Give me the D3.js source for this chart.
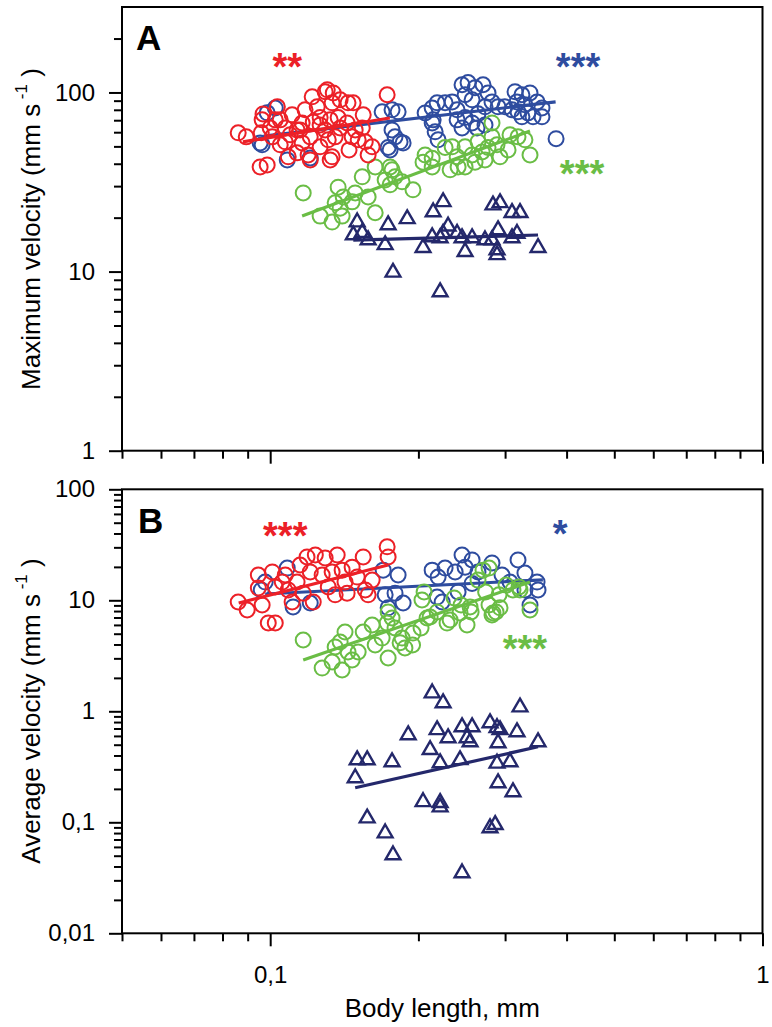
<!DOCTYPE html>
<html><head><meta charset="utf-8">
<script src="https://cdn.jsdelivr.net/npm/d3@7"></script>
<style>
body{margin:0;background:#fff}
text{font-family:"Liberation Sans",Arial,sans-serif}
</style>
</head><body>
<svg id="c" width="772" height="1027"></svg>
<script>
// ---------- tick values and labels ----------
const xMajor = [0.1, 1];
const xMinor = [0.05,0.06,0.07,0.08,0.09,0.2,0.3,0.4,0.5,0.6,0.7,0.8,0.9];
const xLabels = {"0.1":"0,1","1":"1"};
const yMajorA = [1,10,100];
const yMinorA = [2,3,4,5,6,7,8,9,20,30,40,50,60,70,80,90,200];
const yLabelsA = {"1":"1","10":"10","100":"100"};
const yMajorB = [0.01,0.1,1,10,100];
const yMinorB = [0.02,0.03,0.04,0.05,0.06,0.07,0.08,0.09,0.2,0.3,0.4,0.5,0.6,0.7,0.8,0.9,2,3,4,5,6,7,8,9,20,30,40,50,60,70,80,90];
const yLabelsB = {"0.01":"0,01","0.1":"0,1","1":"1","10":"10","100":"100"};

// ---------- Panel A: maximum velocity ----------
const redA = [[0.0861,59.5],[0.0894,56.5],[0.0954,38.4],[0.0986,39.4],[0.0963,70.3],[0.0959,59.5],[0.1034,83.1],[0.1024,70.3],[0.1010,56.5],[0.1048,51.0],[0.1088,43.7],[0.1108,75.0],[0.1073,63.4],[0.1134,61.8],[0.1161,52.3],[0.1194,44.8],[0.1217,94.5],[0.1293,101],[0.1246,83.1],[0.1223,68.5],[0.1263,72.4],[0.1293,61.8],[0.1336,87.5],[0.1387,91.0],[0.1439,87.5],[0.1374,72.4],[0.1355,56.5],[0.1312,54.4],[0.1336,43.7],[0.1433,67.6],[0.1467,56.5],[0.1446,47.8],[0.1545,75.0],[0.1509,54.4],[0.1560,53.0],[0.1611,49.7],[0.1581,44.8],[0.1728,97.1],[0.1206,56.5],[0.1161,67.6],[0.1000,63.4],[0.1073,53.0],[0.1263,49.7],[0.1134,46.0],[0.0967,75.9],[0.1306,103.5],[0.1343,99.4],[0.1474,87.5],[0.1324,42.0],[0.1206,42.0],[0.1150,61.8],[0.1098,58.0],[0.1263,65.9],[0.1387,63.4],[0.1488,61.8],[0.1324,70.3],[0.1177,80.0],[0.1048,70.3],[0.1538,63.4]];
const blueA = [[0.1024,81.9],[0.0963,51.0],[0.1083,42.0],[0.1206,43.1],[0.1688,78.0],[0.1736,49.3],[0.1768,80.0],[0.1819,78.0],[0.1768,61.8],[0.1793,56.5],[0.1836,53.0],[0.1752,47.8],[0.2133,81.9],[0.2183,87.5],[0.2133,67.6],[0.2163,60.3],[0.2193,54.4],[0.2266,87.5],[0.2342,88.6],[0.2397,80.0],[0.2453,110.4],[0.2523,113.5],[0.2607,106.3],[0.2706,110.4],[0.2770,99.4],[0.2488,97.1],[0.2571,91.0],[0.2488,72.4],[0.2571,67.6],[0.2643,76.0],[0.2731,83.1],[0.2822,88.6],[0.2903,83.1],[0.2453,63.4],[0.2397,70.3],[0.2631,63.4],[0.2731,65.9],[0.3143,101],[0.3246,97.1],[0.3371,99.4],[0.3172,88.6],[0.3292,85.3],[0.3484,88.6],[0.3565,81.9],[0.3187,78.0],[0.3339,76.9],[0.3246,73.1],[0.3419,73.1],[0.3565,73.1],[0.3099,80.0],[0.3808,55.2],[0.2064,76.9],[0.2997,83.1],[0.0986,77.0],[0.0954,52.3],[0.1862,52.3],[0.2143,70.3]];
const greenA = [[0.1167,27.5],[0.1374,29.6],[0.1407,26.1],[0.1355,24.2],[0.1263,20.4],[0.1336,18.9],[0.1400,20.4],[0.1467,24.5],[0.1387,22.6],[0.1581,26.1],[0.1634,21.3],[0.1538,33.8],[0.1634,38.4],[0.1712,32.5],[0.1768,37.0],[0.1488,27.5],[0.1752,38.4],[0.1793,33.8],[0.1752,30.5],[0.1853,31.7],[0.1950,28.6],[0.2064,44.8],[0.2044,40.8],[0.2133,42.9],[0.2133,38.4],[0.2342,49.7],[0.2320,37.0],[0.2397,43.7],[0.2488,49.7],[0.2488,38.4],[0.2571,44.8],[0.2643,53.0],[0.2694,46.5],[0.2731,42.0],[0.2822,67.6],[0.2822,56.5],[0.2770,49.3],[0.2889,51.0],[0.2930,43.7],[0.3042,47.8],[0.3070,58.0],[0.3187,56.5],[0.3292,54.4],[0.3371,44.8],[0.2607,40.8],[0.2408,38.4],[0.2266,49.3]];
const navyA = [[0.1502,18.9],[0.1538,16.5],[0.1581,15.0],[0.1736,18.2],[0.1712,14.1],[0.1776,9.9],[0.1898,19.7],[0.2143,21.5],[0.2245,24.5],[0.2298,17.9],[0.2044,13.6],[0.2214,15.4],[0.2245,16.3],[0.2397,16.3],[0.2453,15.4],[0.2488,12.9],[0.2571,15.4],[0.2214,7.7],[0.2835,23.5],[0.2930,24.2],[0.3099,21.3],[0.3217,21.3],[0.2903,17.1],[0.2822,15.0],[0.2889,13.2],[0.2889,12.4],[0.3099,15.4],[0.3172,16.3],[0.3500,13.6],[0.2731,15.0],[0.2133,15.6],[0.1475,16.0]];
const fitRedA = [[0.088,53],[0.175,72]];
const fitBlueA = [[0.097,57],[0.380,88.6]];
const fitGreenA = [[0.1161,20.4],[0.3371,61.0]];
const fitNavyA = [[0.1475,15.0],[0.350,16.0]];

// ---------- Panel B: average velocity ----------
const redB = [[0.0861,9.65],[0.0898,8.18],[0.0963,9.07],[0.0946,12.9],[0.0946,16.9],[0.0991,6.25],[0.1024,6.25],[0.1010,18.0],[0.1024,13.2],[0.1058,14.6],[0.1088,12.4],[0.1108,9.65],[0.1134,14.6],[0.1167,11.6],[0.1206,18.0],[0.1235,25.6],[0.1188,24.6],[0.1223,9.65],[0.1275,16.9],[0.1293,24.1],[0.1368,25.6],[0.1312,13.2],[0.1355,11.2],[0.1400,18.7],[0.1419,14.6],[0.1433,11.6],[0.1467,19.9],[0.1502,16.2],[0.1545,24.6],[0.1560,12.4],[0.1581,11.2],[0.1611,15.2],[0.1728,30.3],[0.1736,24.6],[0.1150,20.8],[0.1073,16.9],[0.1336,18.0]];
const blueB = [[0.0959,12.4],[0.1083,19.5],[0.1113,8.71],[0.1206,9.46],[0.0977,14.6],[0.1696,18.7],[0.1793,11.6],[0.1862,9.46],[0.1736,8.55],[0.2133,18.7],[0.2193,16.2],[0.2266,19.5],[0.2375,18.0],[0.2453,25.6],[0.2571,23.1],[0.2488,19.9],[0.2643,18.0],[0.2822,21.7],[0.2957,16.9],[0.3070,14.6],[0.3187,23.1],[0.3292,17.6],[0.3484,14.6],[0.3500,12.4],[0.3292,12.4],[0.3371,9.07],[0.2235,9.65],[0.2408,11.9],[0.2571,14.2],[0.1819,16.9],[0.2183,10.7],[0.1712,11.2]];
const greenB = [[0.1167,4.39],[0.1275,2.45],[0.1336,2.78],[0.1400,2.36],[0.1355,3.80],[0.1387,4.21],[0.1419,5.18],[0.1439,3.42],[0.1509,3.42],[0.1467,2.90],[0.1545,5.18],[0.1611,5.99],[0.1634,3.96],[0.1688,4.57],[0.1736,3.02],[0.1768,6.93],[0.1793,5.63],[0.1853,4.57],[0.1878,3.72],[0.1946,3.96],[0.2025,5.63],[0.2054,11.9],[0.2083,6.93],[0.2183,7.85],[0.2287,6.24],[0.2364,10.5],[0.2442,9.07],[0.2511,5.99],[0.2559,7.85],[0.2643,15.2],[0.2783,19.5],[0.2739,11.9],[0.2783,9.07],[0.2876,7.85],[0.2916,11.2],[0.3014,13.7],[0.3113,12.4],[0.3202,13.2],[0.3371,8.18],[0.2822,7.37],[0.1736,7.85],[0.2034,10.06],[0.2113,7.07],[0.1950,5.07],[0.1836,4.15],[0.1728,6.24],[0.2320,6.65],[0.2430,7.68],[0.2547,8.71],[0.2706,18.7],[0.2835,7.68],[0.2930,8.55],[0.3217,12.4]];
const navyB = [[0.2133,1.46],[0.2245,1.19],[0.3217,1.09],[0.1907,0.612],[0.2183,0.68],[0.2298,0.575],[0.2453,0.722],[0.2571,0.722],[0.2511,0.575],[0.2547,0.530],[0.2796,0.785],[0.2889,0.71],[0.2930,0.68],[0.2903,0.519],[0.3172,0.651],[0.3500,0.53],[0.1502,0.364],[0.1574,0.364],[0.1488,0.251],[0.1768,0.35],[0.2113,0.45],[0.2214,0.342],[0.2430,0.365],[0.2889,0.34],[0.3070,0.35],[0.2903,0.226],[0.3113,0.1875],[0.2044,0.153],[0.2214,0.15],[0.2214,0.137],[0.1574,0.109],[0.1712,0.080],[0.1776,0.0507],[0.2796,0.0889],[0.2864,0.095],[0.2453,0.0349]];
const fitRedB = [[0.0863,9.46],[0.1736,20.8]];
const fitBlueB = [[0.0977,11.4],[0.358,15.3]];
const fitGreenB = [[0.1167,2.90],[0.3371,14.6]];
const fitNavyB = [[0.1488,0.205],[0.350,0.479]];

// significance marks: [text, x, y(baseline), colour]
const starsA = [["**",0.1083,118,"red"],["***",0.422,118,"blue"],["***",0.43,29.7,"green"]];
const starsB = [["***",0.1073,29.0,"red"],["*",0.388,30.2,"blue"],["***",0.329,2.78,"green"]];

const colors = {red:"#ec2027", blue:"#2e4c9f", green:"#6abd45", navy:"#24286b"};

// ---------- drawing ----------
const svg = d3.select("#c");
const L = 122, R = 762.5;
const x = d3.scaleLog().domain([0.05,1]).range([L,R]);
const yA = d3.scaleLog().domain([1,300]).range([450.7,7]);
const yB = d3.scaleLog().domain([0.01,100]).range([933.3,489.3]);

function panel(y, yMajor, yMinor, yLabels, showXLabels){
  const [y0,y1] = y.range();
  const g = svg.append("g");
  g.append("rect").attr("x",L).attr("y",y1).attr("width",R-L).attr("height",y0-y1)
    .attr("fill","none").attr("stroke","#000").attr("stroke-width",2);
  const gx = g.append("g").attr("transform",`translate(0,${y0})`);
  gx.call(d3.axisBottom(x).tickValues(xMinor).tickSize(8).tickFormat(""));
  const gxm = g.append("g").attr("transform",`translate(0,${y0})`);
  gxm.call(d3.axisBottom(x).tickValues(xMajor).tickSize(13).tickPadding(20)
     .tickFormat(d => showXLabels ? xLabels[String(d)] : ""));
  const gy = g.append("g").attr("transform",`translate(${L},0)`);
  gy.call(d3.axisLeft(y).tickValues(yMinor).tickSize(8).tickFormat(""));
  const gym = g.append("g").attr("transform",`translate(${L},0)`);
  gym.call(d3.axisLeft(y).tickValues(yMajor).tickSize(13).tickPadding(14)
     .tickFormat(d => yLabels[String(d)]));
  g.selectAll(".domain").remove();
  g.selectAll(".tick line").attr("stroke","#000").attr("stroke-width",2);
  g.selectAll(".tick text").attr("font-size",24).attr("fill","#000")
    .style("font-family",'"Liberation Sans",Arial,sans-serif');
  return g;
}

function series(g, y, pts, fit, col, tri){
  const c = colors[col];
  const plot = g.append("g");
  if(tri){
    plot.selectAll("path.m").data(pts).join("path").attr("class","m")
      .attr("d", d3.symbol(d3.symbolTriangle, 95))
      .attr("transform", d => `translate(${x(d[0])},${y(d[1])})`)
      .attr("fill","none").attr("stroke",c).attr("stroke-width",2.4);
  } else {
    plot.selectAll("circle").data(pts).join("circle")
      .attr("cx", d => x(d[0])).attr("cy", d => y(d[1])).attr("r",7.5)
      .attr("fill","none").attr("stroke",c).attr("stroke-width",2);
  }
  const line = d3.line().x(d => x(d[0])).y(d => y(d[1]));
  plot.append("path").attr("d", line(fit)).attr("stroke",c)
    .attr("stroke-width",3.2).attr("fill","none");
}

function stars(g, y, list){
  g.selectAll("text.star").data(list).join("text").attr("class","star")
    .attr("x", d => x(d[1])).attr("y", d => y(d[2]))
    .attr("text-anchor","middle").attr("font-size",38).attr("font-weight","bold")
    .attr("fill", d => colors[d[3]]).text(d => d[0]);
}

// Panel A
const gA = panel(yA, yMajorA, yMinorA, yLabelsA, false);
series(gA, yA, blueA, fitBlueA, "blue", false);
series(gA, yA, greenA, fitGreenA, "green", false);
series(gA, yA, redA, fitRedA, "red", false);
series(gA, yA, navyA, fitNavyA, "navy", true);
stars(gA, yA, starsA);
gA.append("text").attr("x",136).attr("y",50).attr("font-size",35).attr("font-weight","bold").text("A");

// Panel B
const gB = panel(yB, yMajorB, yMinorB, yLabelsB, true);
series(gB, yB, blueB, fitBlueB, "blue", false);
series(gB, yB, greenB, fitGreenB, "green", false);
series(gB, yB, redB, fitRedB, "red", false);
series(gB, yB, navyB, fitNavyB, "navy", true);
stars(gB, yB, starsB);
gB.append("text").attr("x",138).attr("y",533).attr("font-size",35).attr("font-weight","bold").text("B");

// axis titles
function yTitle(label, cy){
  const t = svg.append("text").attr("transform",`translate(40,${cy}) rotate(-90)`)
    .attr("text-anchor","middle").attr("font-size",26).attr("fill","#000");
  t.append("tspan").text(label + " (mm s");
  t.append("tspan").attr("font-size",17).attr("dy",-13).text(" -1");
  t.append("tspan").attr("dy",13).text(" )");
}
yTitle("Maximum velocity", 229);
yTitle("Average velocity", 711);
svg.append("text").attr("x",(L+R)/2).attr("y",1017).attr("text-anchor","middle")
  .attr("font-size",26).text("Body length, mm");
</script>
</body></html>
